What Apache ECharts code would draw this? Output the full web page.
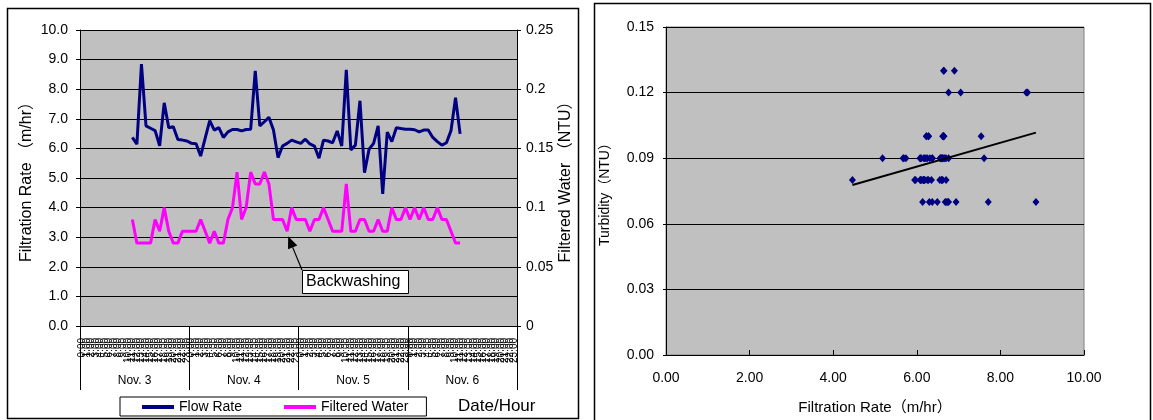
<!DOCTYPE html>
<html>
<head>
<meta charset="utf-8">
<script src="https://cdn.jsdelivr.net/npm/echarts@6/dist/echarts.min.js"></script>
<style>
  html, body { margin: 0; padding: 0; background: #fff; }
  #chart { width: 1153px; height: 420px; }
</style>
</head>
<body>
<div id="chart"></div>
<script>
// Days and hourly tick labels of the time axis
const days = ['Nov. 3', 'Nov. 4', 'Nov. 5', 'Nov. 6'];
const hours = ['0:00', '1:00', '2:00', '3:00', '4:00', '5:00', '6:00', '7:00',
  '8:00', '9:00', '10:00', '11:00', '12:00', '13:00', '14:00', '15:00',
  '16:00', '17:00', '18:00', '19:00', '20:00', '21:00', '22:00', '23:00'];

// Hourly record starts at Nov. 3, 11:00
const firstHour = 11;

// Filtration (flow) rate, m/hr
const flowRate = [
  6.37, 6.14, 8.85, 6.76, 6.68, 6.60, 6.09, 7.54, 6.70, 6.73,
  6.30, 6.28, 6.25, 6.17, 6.16, 5.74, 6.35, 6.94, 6.62, 6.70,
  6.37, 6.56, 6.64, 6.64, 6.59, 6.64, 6.65, 8.62, 6.76, 6.90,
  7.05, 6.62, 5.69, 6.08, 6.17, 6.28, 6.22, 6.17, 6.31, 6.15,
  6.08, 5.67, 6.28, 6.25, 6.19, 6.59, 6.08, 8.65, 5.95, 6.11,
  7.61, 5.18, 5.97, 6.17, 6.76, 4.46, 6.55, 6.23, 6.70, 6.67,
  6.65, 6.65, 6.63, 6.56, 6.62, 6.62, 6.37, 6.23, 6.11, 6.19,
  6.60, 7.71, 6.49
];

// Filtered water turbidity, NTU
const turbidity = [
  0.09, 0.07, 0.07, 0.07, 0.07, 0.09, 0.08, 0.10, 0.08, 0.07,
  0.07, 0.08, 0.08, 0.08, 0.08, 0.09, 0.08, 0.07, 0.08, 0.07,
  0.07, 0.09, 0.10, 0.13, 0.09, 0.10, 0.13, 0.12, 0.12, 0.13,
  0.12, 0.09, 0.09, 0.09, 0.08, 0.10, 0.09, 0.09, 0.09, 0.08,
  0.09, 0.09, 0.10, 0.09, 0.08, 0.08, 0.08, 0.12, 0.08, 0.08,
  0.09, 0.09, 0.08, 0.08, 0.09, 0.08, 0.08, 0.10, 0.09, 0.09,
  0.10, 0.09, 0.10, 0.09, 0.10, 0.09, 0.09, 0.10, 0.09, 0.09,
  0.08, 0.07, 0.07
];

// Hour marked as a backwashing event
const backwashHour = 45;

const FONT = '"Liberation Sans", "Noto Sans CJK JP", sans-serif';
const NAVY = '#000080';
const MAGENTA = '#ff00ff';

const categories = days.flatMap(() => hours);
const pad = arr => categories.map((_, i) => {
  const k = i - firstHour;
  return k >= 0 && k < arr.length ? arr[k] : null;
});

// Scatter pairs and least-squares trend line
const pairs = flowRate.map((f, i) => [f, turbidity[i]]);
const n = pairs.length;
const mx = pairs.reduce((s, p) => s + p[0], 0) / n;
const my = pairs.reduce((s, p) => s + p[1], 0) / n;
let sxy = 0, sxx = 0;
pairs.forEach(p => { sxy += (p[0] - mx) * (p[1] - my); sxx += (p[0] - mx) ** 2; });
const slope = sxy / sxx;
const icpt = my - slope * mx;
const xMin = Math.min(...flowRate), xMax = Math.max(...flowRate);
const trend = [[xMin, icpt + slope * xMin], [xMax, icpt + slope * xMax]];

const black = { color: '#000', width: 1 };
const txt = (size) => ({ color: '#000', fontFamily: FONT, fontSize: size });

const chart = echarts.init(document.getElementById('chart'), null, { renderer: 'canvas' });

chart.setOption({
  animation: false,
  backgroundColor: '#fff',
  textStyle: { fontFamily: FONT, color: '#000' },
  grid: [
    { left: 80, top: 30, width: 437, height: 296, show: true, backgroundColor: '#c0c0c0', borderWidth: 0 },
    { left: 666, top: 27, width: 418, height: 332, show: true, backgroundColor: '#c0c0c0', borderColor: '#808080', borderWidth: 1 }
  ],
  legend: {
    left: 120, top: 397,
    data: ['Flow Rate', 'Filtered Water'],
    icon: 'rect', itemWidth: 32, itemHeight: 4, itemGap: 42,
    padding: [3, 18, 2, 22],
    borderColor: '#000', borderWidth: 1, backgroundColor: '#fff',
    textStyle: txt(14)
  },
  xAxis: [
    {
      type: 'category', gridIndex: 0, data: categories, boundaryGap: true, position: 'bottom',
      axisLine: { lineStyle: black },
      axisTick: { interval: 0, length: 42, lineStyle: black },
      axisLabel: Object.assign({ interval: 0, rotate: 90, margin: 12 }, txt(10)),
      splitLine: { show: false }
    },
    {
      type: 'category', gridIndex: 0, data: days, boundaryGap: true, position: 'bottom', offset: 0,
      axisLine: { show: false },
      axisTick: { show: true, interval: 0, length: 64, lineStyle: black },
      axisLabel: Object.assign({ interval: 0, margin: 49 }, txt(12)),
      splitLine: { show: false }
    },
    {
      type: 'value', gridIndex: 1, min: 0, max: 10, interval: 2,
      name: 'Filtration Rate（m/hr）', nameLocation: 'middle', nameGap: 45,
      nameTextStyle: txt(15),
      axisLine: { lineStyle: black },
      axisTick: { inside: true, length: 5, lineStyle: black },
      axisLabel: Object.assign({ margin: 16, formatter: v => v.toFixed(2) }, txt(14)),
      splitLine: { show: false }
    }
  ],
  yAxis: [
    {
      type: 'value', gridIndex: 0, min: 0, max: 10, interval: 1,
      name: 'Filtration Rate （m/hr）', nameLocation: 'middle', nameGap: 45,
      nameTextStyle: txt(16),
      axisLine: { show: true, lineStyle: black },
      axisTick: { show: true, length: 4, lineStyle: black },
      axisLabel: Object.assign({ margin: 12, formatter: v => v.toFixed(1) }, txt(14)),
      splitLine: { show: true, lineStyle: black }
    },
    {
      type: 'value', gridIndex: 0, position: 'right', min: 0, max: 0.25, interval: 0.05,
      name: 'Filtered Water （NTU）', nameLocation: 'middle', nameGap: 41,
      nameTextStyle: txt(16),
      axisLine: { show: true, lineStyle: black },
      axisTick: { show: true, length: 4, lineStyle: black },
      axisLabel: Object.assign({ margin: 9, formatter: v => String(+v.toFixed(2)) }, txt(14)),
      splitLine: { show: false }
    },
    {
      type: 'value', gridIndex: 1, min: 0, max: 0.15, interval: 0.03,
      name: 'Turbidity（NTU）', nameLocation: 'middle', nameGap: 54,
      nameTextStyle: txt(14),
      axisLine: { show: true, lineStyle: black },
      axisTick: { show: true, length: 3, lineStyle: black },
      axisLabel: Object.assign({ margin: 12, formatter: v => v.toFixed(2) }, txt(14)),
      splitLine: { show: true, lineStyle: black }
    }
  ],
  series: [
    {
      name: 'Flow Rate', type: 'line', xAxisIndex: 0, yAxisIndex: 0,
      data: pad(flowRate), showSymbol: false, symbol: 'none',
      lineStyle: { color: NAVY, width: 3 }, itemStyle: { color: NAVY }
    },
    {
      name: 'Filtered Water', type: 'line', xAxisIndex: 0, yAxisIndex: 1,
      data: pad(turbidity), showSymbol: false, symbol: 'none',
      lineStyle: { color: MAGENTA, width: 3 }, itemStyle: { color: MAGENTA }
    },
    {
      name: 'Turbidity vs Rate', type: 'scatter', xAxisIndex: 2, yAxisIndex: 2,
      data: pairs, symbol: 'diamond', symbolSize: [7, 8],
      itemStyle: { color: NAVY, opacity: 1 }
    },
    {
      name: 'Trend', type: 'line', xAxisIndex: 2, yAxisIndex: 2,
      data: trend, showSymbol: false, symbol: 'none',
      lineStyle: { color: '#000', width: 2 }
    }
  ]
});

// Annotation arrow pointing at the backwashing dip
const tip = chart.convertToPixel({ xAxisIndex: 0, yAxisIndex: 1 }, [backwashHour, turbidity[backwashHour - firstHour]]);
const T = [tip[0] + 1, tip[1] + 5];
const S = [302, 270];
const dx = T[0] - S[0], dy = T[1] - S[1];
const len = Math.hypot(dx, dy);
const ux = dx / len, uy = dy / len;
const headL = 12, headW = 5;
const B = [T[0] - ux * headL, T[1] - uy * headL];
const nx = -uy, ny = ux;

chart.setOption({
  graphic: [
    { type: 'rect', shape: { x: 7.5, y: 8.5, width: 571, height: 410 }, style: { fill: 'none', stroke: '#000', lineWidth: 1.5 }, z: 100 },
    { type: 'rect', shape: { x: 594.5, y: 3.5, width: 556, height: 430 }, style: { fill: 'none', stroke: '#000', lineWidth: 1.5 }, z: 100 },
    { type: 'text', left: 458, top: 398, style: { text: 'Date/Hour', font: '17px ' + FONT, fill: '#000' }, z: 100 },
    { type: 'line', shape: { x1: S[0], y1: S[1], x2: B[0], y2: B[1] }, style: { stroke: '#000', lineWidth: 1.2 }, z: 100 },
    { type: 'polygon', shape: { points: [T, [B[0] + nx * headW, B[1] + ny * headW], [B[0] - nx * headW, B[1] - ny * headW]] }, style: { fill: '#000' }, z: 100 },
    { type: 'rect', shape: { x: 302.5, y: 270.5, width: 106, height: 23 }, style: { fill: '#fff', stroke: '#000', lineWidth: 1 }, z: 100 },
    { type: 'text', x: 306, y: 282, style: { text: 'Backwashing', font: '16px ' + FONT, fill: '#000', verticalAlign: 'middle' }, z: 101 }
  ]
});
</script>
</body>
</html>
